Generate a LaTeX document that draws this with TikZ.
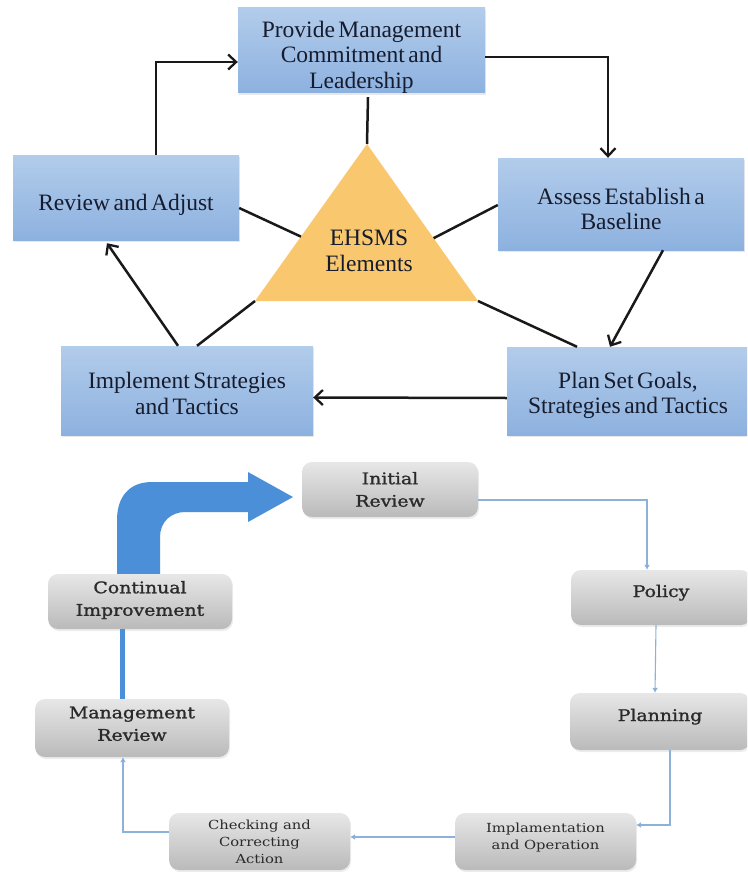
\documentclass[tikz,border=0pt]{standalone}
\usepackage{fontspec}
\setmainfont{Liberation Serif}[WordSpace=0.6]
\newfontfamily\gfont{DejaVu Serif}[FakeStretch=1.18]
\newfontfamily\gbfont{DejaVu Serif}[FakeStretch=1.18, FakeBold=1.3]
\usetikzlibrary{arrows.meta,calc,shadows}
\definecolor{boxtop}{HTML}{B2CCEB}
\definecolor{boxbot}{HTML}{8DB1DF}
\definecolor{trifill}{HTML}{F9C86E}
\definecolor{gtop}{HTML}{E7E7E7}
\definecolor{gbot}{HTML}{BABABA}
\definecolor{bigarrow}{HTML}{4A8FD8}
\definecolor{thinblue}{HTML}{8DB2DA}
\definecolor{thinhead}{HTML}{6E9DD0}
\definecolor{txt}{HTML}{161C2E}
\definecolor{gtxt}{HTML}{2A2A2A}
\newcommand\lowered[2]{\raisebox{#1}[\height][\depth]{\begin{tabular}{@{}c@{}}#2\end{tabular}}}
\begin{document}
\begin{tikzpicture}[x=1pt,y=-1pt,
  bbox/.style={rectangle, top color=boxtop, bottom color=boxbot, draw=none, inner sep=0pt,
    align=center, font=\fontsize{23.5}{25.5}\selectfont, text=txt,
    drop shadow={opacity=0.18, shadow xshift=1pt, shadow yshift=-2pt}},
  gbox/.style={rectangle, rounded corners=10pt, top color=gtop, bottom color=gbot, draw=none,
    inner sep=0pt, align=center, text=gtxt,
    drop shadow={opacity=0.15, shadow xshift=1pt, shadow yshift=-2pt}},
  bigtxt/.style={font=\gbfont\fontsize{16}{22.5}\selectfont},
  smalltxt/.style={font=\gfont\fontsize{12.5}{17}\selectfont},
  conn/.style={line width=2.5pt, black!90},
  arr/.style={conn, -{Straight Barb[length=8pt,width=15pt,line width=2.3pt]}},
  tconn/.style={line width=1.1pt, thinblue, -{Latex[length=5pt,width=6pt,fill=thinhead]}},
]
\useasboundingbox (0,0) rectangle (747,872);
\clip (0,0) rectangle (747,872);

% ---------- top diagram ----------
\coordinate (ta) at (367,144);
\coordinate (tl) at (255,301);
\coordinate (tr) at (478,301);
\fill[trifill] (ta) -- (tl) -- (tr) -- cycle;
\node[font=\fontsize{23.5}{25.5}\selectfont, align=center, text=txt] (ehs) at (369,251) {EHSMS\\Elements};

\node[bbox, minimum width=247pt, minimum height=85pt] (prov) at (361.5,50.5) {\lowered{-7pt}{Provide Management\\Commitment and\\Leadership}};
\node[bbox, minimum width=226pt, minimum height=85pt] (rev) at (126,197.5) {\lowered{-8pt}{Review and Adjust}};
\node[bbox, minimum width=246pt, minimum height=92pt] (ass) at (621,204) {\lowered{-8pt}{Assess Establish a\\Baseline}};
\node[bbox, minimum width=252pt, minimum height=89pt] (impl) at (187,390.5) {\lowered{-6pt}{Implement Strategies\\and Tactics}};
\node[bbox, minimum width=242pt, minimum height=88pt] (plan) at (628,391) {\lowered{-5pt}{Plan Set Goals,\\Strategies and Tactics}};

\draw[arr] ([yshift=-6.5pt]prov.east) -| ([xshift=-13pt]ass.north);
\draw[arr] ([xshift=30pt]rev.north) |- ([yshift=-11.5pt]prov.west);
\draw[arr] ([xshift=42pt]ass.south) -- ([xshift=-18pt]plan.north);
\draw[arr] ([yshift=-7pt]plan.west) -- ([yshift=-7pt]impl.east);
\draw[arr] ([xshift=-9pt]impl.north) -- ([xshift=-19pt,yshift=-3pt]rev.south);

\draw[conn] ([xshift=6.5pt,yshift=-4pt]prov.south) -- (ta);
\draw[conn] ([yshift=-10.5pt]rev.east) -- ($(ta)!0.59!(tl)$);
\draw[conn] ([yshift=-1pt]ass.west) -- ($(ta)!0.6!(tr)$);
\draw[conn] ([xshift=10pt]impl.north) -- (tl);
\draw[conn] ([xshift=-51pt]plan.north) -- (tr);

% ---------- bottom diagram ----------
\fill[bigarrow] (117,574) -- (117,520) .. controls (117,497) and (129,482) .. (152,482)
  -- (248,482) -- (248,472) -- (293,497) -- (248,522) -- (248,512) -- (185,512)
  .. controls (171,512) and (160,522) .. (160,537) -- (160,574) -- cycle;

\node[gbox, bigtxt, minimum width=176pt, minimum height=55pt] (init) at (390,489.5) {Initial\\Review};
\node[gbox, bigtxt, minimum width=180pt, minimum height=55pt] (pol) at (661,597.5) {\lowered{5pt}{Policy}};
\node[gbox, bigtxt, minimum width=180pt, minimum height=57pt] (plg) at (660,721.5) {\lowered{5pt}{Planning}};
\node[gbox, smalltxt, minimum width=181pt, minimum height=57pt] (impo) at (545.5,841.5) {\lowered{4pt}{Implamentation\\and Operation}};
\node[gbox, smalltxt, minimum width=181pt, minimum height=57pt] (chk) at (259.5,841.5) {Checking and\\Correcting\\Action};
\node[gbox, bigtxt, minimum width=194pt, minimum height=58pt] (mgr) at (132,728) {\lowered{3pt}{Management\\Review}};
\node[gbox, bigtxt, minimum width=184pt, minimum height=55pt] (cont) at (140,601.5) {\lowered{1.5pt}{Continual\\Improvement}};

\fill[bigarrow] ([xshift=-20pt]cont.south) rectangle ([xshift=-7pt]mgr.north);

\draw[tconn] ([yshift=-10.5pt]init.east) -| ([xshift=-14pt]pol.north);
\draw[tconn] ([xshift=-5pt]pol.south) -- ([xshift=-5pt]plg.north);
\draw[tconn] ([xshift=10pt]plg.south) |- ([yshift=16.5pt]impo.east);
\draw[tconn] ([yshift=4.5pt]impo.west) -- ([yshift=4.5pt]chk.east);
\draw[tconn] ([yshift=9.5pt]chk.west) -| ([xshift=-9pt]mgr.south);
\end{tikzpicture}
\end{document}
